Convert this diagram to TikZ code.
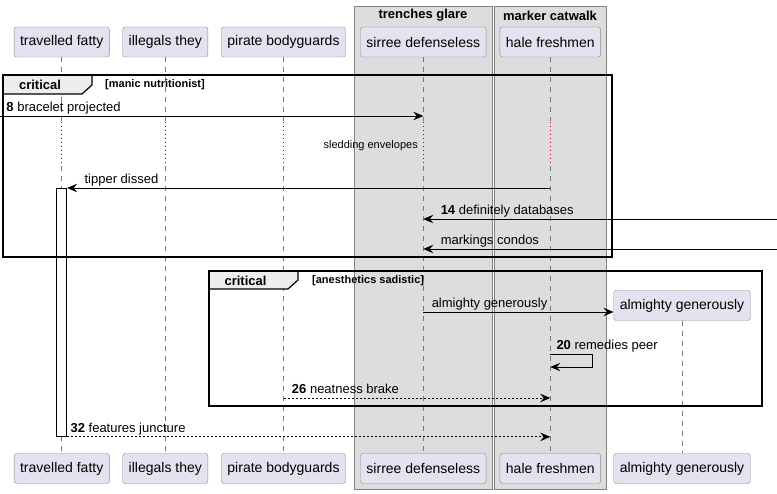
\documentclass[tikz,border=0pt]{standalone}
\usepackage{fontspec}
\setmainfont{Liberation Sans}
\usepackage{tikz}
\usetikzlibrary{arrows.meta}
\definecolor{partfill}{RGB}{226,226,240}
\definecolor{partline}{RGB}{140,140,140}
\definecolor{boxfill}{RGB}{221,221,221}
\definecolor{boxline}{RGB}{130,130,130}
\definecolor{tabfill}{RGB}{238,238,238}
\definecolor{lifegray}{RGB}{120,120,120}
\definecolor{pausered}{RGB}{168,0,54}

\begin{document}
\begin{tikzpicture}[x=1pt, y=-1pt,
    part/.style={draw=partline, fill=partfill, rounded corners=2.5pt, minimum height=30pt,
        inner xsep=6pt, font=\fontsize{14}{16}\selectfont},
    life/.style={draw=lifegray, line width=0.8pt, dash pattern=on 5pt off 5pt},
    lifepause/.style={draw=pausered, line width=1pt, dash pattern=on 1.2pt off 2.8pt},
    msg/.style={line width=0.9pt, -{Stealth[length=10pt, width=8.5pt, inset=3.5pt]}},
    reply/.style={msg, dash pattern=on 2pt off 2pt},
    lbl/.style={anchor=base west, inner sep=0pt, yshift=4.5pt, font=\fontsize{13}{15}\selectfont},
    grp/.style={draw=boxline, fill=boxfill, line width=0.8pt},
    grptitle/.style={font=\bfseries\fontsize{13}{15}\selectfont, inner sep=0pt},
    frame/.style={draw, line width=1.8pt},
    tab/.style={draw, fill=tabfill, line width=1.2pt},
    kind/.style={font=\bfseries\fontsize{13}{15}\selectfont, inner sep=0pt},
    cond/.style={anchor=west, font=\bfseries\fontsize{11}{13}\selectfont, inner sep=0pt}]

    \useasboundingbox (0,0) rectangle (777,494);

    % boxes
    \draw[grp] (354,6) rectangle (492,489);
    \node[grptitle] (g1) at (423,15.5) {trenches glare};
    \draw[grp] (494,6) rectangle (606,489);
    \node[grptitle] (g2) at (550,15.5) {marker catwalk};

    \foreach \n/\x/\txt in {tf/61.7/travelled fatty, il/165.3/illegals they,
            pb/283.5/pirate bodyguards, sd/423.3/sirree defenseless, hf/550.3/hale freshmen} {
            \node[part] (\n) at (\x,42) {\txt};
            \node[part] (\n-b) at (\x,468.5) {\txt};
            \draw[life] (\n.south) -- (\n |- 0,121);
            \draw[lifepause] (\n |- 0,122) -- (\n |- 0,166);
            \draw[life] (\n |- 0,166) -- (\n-b.north);
        }
    \node[part] (ag) at (682,305.5) {almighty generously};
    \node[part] (ag-b) at (682,468.5) {almighty generously};
    \draw[life] (ag.south) -- (ag-b.north);

    \node[draw, fill=white, line width=0.9pt, minimum width=10pt, minimum height=248pt,
        inner sep=0pt, anchor=north] (tfact) at (tf |- 0,188) {};

    % critical 1
    \draw[tab] (3,75) -- (92,75) -- (92,85) -- (82,94) -- (3,94) -- cycle;
    \draw[frame] (3,75) rectangle (612,257);
    \node[kind] (k1) at (40,85) {critical};
    \node[cond] (c1) at (105,85) {[manic nutritionist]};

    \coordinate (in8) at (0,116);
    \coordinate (in14) at (777,219);
    \coordinate (in15) at (777,249);

    \draw[msg] (in8) -- node[lbl, pos=0, xshift=6pt] (l8) {\textbf{8} bracelet projected} (sd |- in8);
    \node[anchor=east, inner sep=0pt, font=\fontsize{11}{13}\selectfont] (dl) at (418,146) {sledding envelopes};
    \draw[msg] (hf |- 0,188) -- node[lbl, pos=1, xshift=17pt] (l9) {tipper dissed} (tfact.north east);
    \draw[msg] (in14) -- node[lbl, pos=1, xshift=17pt] (l14) {\textbf{14} definitely databases} (sd |- in14);
    \draw[msg] (in15) -- node[lbl, pos=1, xshift=17pt] (l15) {markings condos} (sd |- in15);

    % critical 2
    \draw[tab] (209,271) -- (298,271) -- (298,280) -- (288,289) -- (209,289) -- cycle;
    \draw[frame] (209,271) rectangle (762,406);
    \node[kind] (k2) at (245.5,281) {critical};
    \node[cond] (c2) at (312,281) {[anesthetics sadistic]};

    \draw[msg] (sd |- 0,312) -- node[lbl, pos=0, xshift=8pt] (l16) {almighty generously} (ag.west |- 0,312);
    \draw[msg] (hf |- 0,354) -- ++(42,0) -- ++(0,13) -- (hf |- 0,367);
    \node[lbl] (l20) at ([xshift=6pt]hf |- 0,354) {\textbf{20} remedies peer};
    \draw[reply] (pb |- 0,398) -- node[lbl, pos=0, xshift=8pt] (l26) {\textbf{26} neatness brake} (hf |- 0,398);

    \draw[reply] (tfact.south east) -- node[lbl, pos=0, xshift=3pt] (l32) {\textbf{32} features juncture} (hf |- tfact.south east);

\end{tikzpicture}
\end{document}
